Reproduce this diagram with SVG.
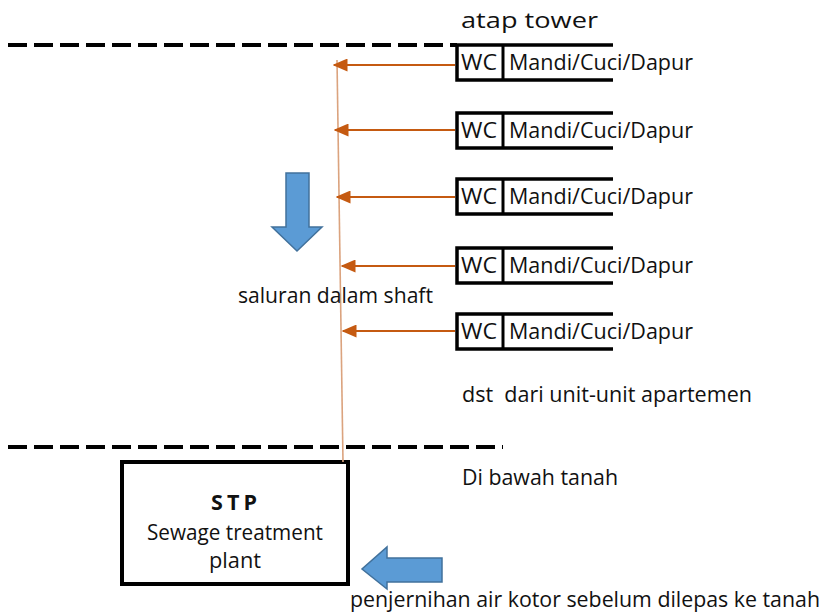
<svg xmlns="http://www.w3.org/2000/svg" width="826" height="615" viewBox="0 0 826 615">
<defs>
<style>
.t{font-family:"Open Sans","Noto Sans","Liberation Sans",sans-serif;font-size:21.5px;fill:#111}
.dash{stroke:#000;stroke-width:4;stroke-dasharray:19 7;fill:none}
.unit{stroke:#000;stroke-width:3.5;fill:none}
.div{stroke:#000;stroke-width:3;fill:none}
.pipe{stroke:#c55a11;stroke-width:2;fill:none}
.blue{fill:#5b9bd5;stroke:#41719c;stroke-width:1.5}
</style>
<marker id="ah" viewBox="0 0 10 10" refX="9" refY="5" markerWidth="7.5" markerHeight="6.5" orient="auto" markerUnits="strokeWidth" preserveAspectRatio="none">
<path d="M0,0 L10,5 L0,10 Z" fill="#c55a11"/>
</marker>
</defs>
<rect width="826" height="615" fill="#fff"/>

<g id="levels">
<line class="dash" x1="8" y1="45" x2="457" y2="45"/>
<line class="dash" x1="8" y1="447" x2="503" y2="447"/>
</g>

<g id="unit1">
<path class="unit" d="M457,45 H613 M457,45 V80 H613"/>
<line class="div" x1="503" y1="45" x2="503" y2="80"/>
<text class="t" x="461" y="70" textLength="36" lengthAdjust="spacingAndGlyphs">WC</text>
<text class="t" x="509" y="70" textLength="184" lengthAdjust="spacingAndGlyphs">Mandi/Cuci/Dapur</text>
</g>
<g id="unit2">
<path class="unit" d="M613,113 H457 V148 H613"/>
<line class="div" x1="503" y1="113" x2="503" y2="148"/>
<text class="t" x="461" y="138" textLength="36" lengthAdjust="spacingAndGlyphs">WC</text>
<text class="t" x="509" y="138" textLength="184" lengthAdjust="spacingAndGlyphs">Mandi/Cuci/Dapur</text>
</g>
<g id="unit3">
<path class="unit" d="M613,179 H457 V214 H613"/>
<line class="div" x1="503" y1="179" x2="503" y2="214"/>
<text class="t" x="461" y="204" textLength="36" lengthAdjust="spacingAndGlyphs">WC</text>
<text class="t" x="509" y="204" textLength="184" lengthAdjust="spacingAndGlyphs">Mandi/Cuci/Dapur</text>
</g>
<g id="unit4">
<path class="unit" d="M613,248 H457 V283 H613"/>
<line class="div" x1="503" y1="248" x2="503" y2="283"/>
<text class="t" x="461" y="273" textLength="36" lengthAdjust="spacingAndGlyphs">WC</text>
<text class="t" x="509" y="273" textLength="184" lengthAdjust="spacingAndGlyphs">Mandi/Cuci/Dapur</text>
</g>
<g id="unit5">
<path class="unit" d="M613,314 H457 V349 H613"/>
<line class="div" x1="503" y1="314" x2="503" y2="349"/>
<text class="t" x="461" y="339" textLength="36" lengthAdjust="spacingAndGlyphs">WC</text>
<text class="t" x="509" y="339" textLength="184" lengthAdjust="spacingAndGlyphs">Mandi/Cuci/Dapur</text>
</g>

<g id="stp">
<rect x="122" y="462" width="226" height="122" fill="none" stroke="#000" stroke-width="4"/>
<text class="t" x="236" y="510" text-anchor="middle" font-weight="bold" font-size="19" letter-spacing="4">STP</text>
<text class="t" x="235" y="540" text-anchor="middle" textLength="176" lengthAdjust="spacingAndGlyphs">Sewage treatment</text>
<text class="t" x="235" y="568" text-anchor="middle" textLength="52" lengthAdjust="spacingAndGlyphs">plant</text>
</g>

<g id="connectors">
<line x1="337" y1="60" x2="343" y2="462" stroke="#dba37e" stroke-width="1.6"/>
<line class="pipe" x1="455" y1="65" x2="334" y2="65" marker-end="url(#ah)"/>
<line class="pipe" x1="455" y1="130" x2="335" y2="130" marker-end="url(#ah)"/>
<line class="pipe" x1="455" y1="197" x2="337" y2="197" marker-end="url(#ah)"/>
<line class="pipe" x1="455" y1="266" x2="342" y2="266" marker-end="url(#ah)"/>
<line class="pipe" x1="455" y1="331" x2="343" y2="331" marker-end="url(#ah)"/>
</g>

<g id="flow-arrows">
<path class="blue" d="M286,173 H309 V227 H322 L297,251 L272,227 H286 Z"/>
<path class="blue" d="M442,558 H387 V547 L362,569 L387,589 V582 H442 Z"/>
</g>

<g id="labels">
<text class="t" x="461" y="28" textLength="137" lengthAdjust="spacingAndGlyphs">atap tower</text>
<text class="t" x="238" y="303" textLength="195" lengthAdjust="spacingAndGlyphs">saluran dalam shaft</text>
<text class="t" x="462" y="402" textLength="290" lengthAdjust="spacingAndGlyphs" xml:space="preserve">dst  dari unit-unit apartemen</text>
<text class="t" x="462" y="485" textLength="156" lengthAdjust="spacingAndGlyphs">Di bawah tanah</text>
<text class="t" x="350" y="607" textLength="470" lengthAdjust="spacingAndGlyphs">penjernihan air kotor sebelum dilepas ke tanah</text>
</g>
</svg>
